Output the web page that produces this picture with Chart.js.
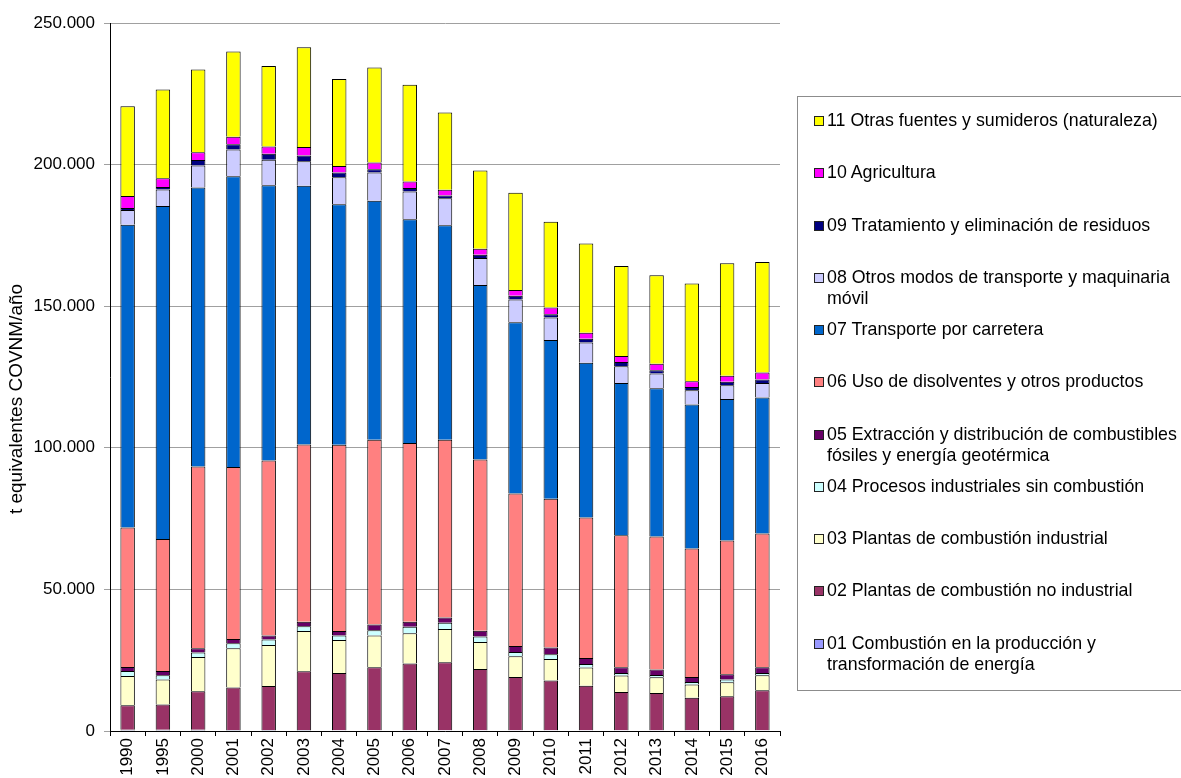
<!DOCTYPE html>
<html lang="es">
<head>
<meta charset="utf-8">
<title>COVNM por sector</title>
<script src="https://cdn.jsdelivr.net/npm/chart.js@4.4.1/dist/chart.umd.min.js"></script>
<style>
  body { margin: 0; background: #fff; }
  #wrap { position: relative; width: 1181px; height: 778px; font-family: "Liberation Sans", Arial, sans-serif; }
  #legend { position: absolute; left: 797px; top: 96px; width: 390px; height: 595px; border: 1px solid #8c8c8c; box-sizing: border-box; }
  #legend .item { position: absolute; left: 0; right: 0; height: 21px; }
  #legend .box { position: absolute; left: 16px; top: 6px; width: 8px; height: 8px; border: 1px solid #222; }
  #legend .txt { position: absolute; left: 29px; top: 0; font-size: 17.8px; line-height: 21px; color: #000; white-space: pre; }
</style>
</head>
<body>
<div id="wrap">
  <canvas id="covnmChart" width="1181" height="778"></canvas>
  <div id="legend"></div>
</div>
<script>
// Años del inventario
const years = ['1990', '1995', '2000', '2001', '2002', '2003', '2004', '2005', '2006', '2007',
               '2008', '2009', '2010', '2011', '2012', '2013', '2014', '2015', '2016'];

// Nombres de los sectores (el salto de línea es el de la leyenda original)
const sectorLabels = [
    '01 Combustión en la producción y\ntransformación de energía',
    '02 Plantas de combustión no industrial',
    '03 Plantas de combustión industrial',
    '04 Procesos industriales sin combustión',
    '05 Extracción y distribución de combustibles\nfósiles y energía geotérmica',
    '06 Uso de disolventes y otros productos',
    '07 Transporte por carretera',
    '08 Otros modos de transporte y maquinaria\nmóvil',
    '09 Tratamiento y eliminación de residuos',
    '10 Agricultura',
    '11 Otras fuentes y sumideros (naturaleza)'
];

const sectorColors = ['#9999ff', '#993366', '#ffffcc', '#ccffff', '#660066', '#ff8080',
                      '#0066cc', '#ccccff', '#000080', '#ff00ff', '#ffff00'];

// t equivalentes COVNM/año
const s01 = [400, 400, 400, 350, 350, 350, 300, 300, 300, 300, 300, 300, 300, 300, 300, 300, 300, 300, 300];
const s02 = [8700, 9000, 13600, 15050, 15550, 20750, 20200, 22200, 23500, 24000, 21600, 18800, 17500, 15700, 13500, 13100, 11400, 12000, 14100];
const s03 = [10300, 8800, 12100, 13800, 14500, 14200, 11600, 11200, 10700, 11700, 9500, 7300, 7600, 6400, 5800, 5600, 4700, 4900, 5300];
const s04 = [1800, 1500, 1600, 1800, 1900, 1700, 1600, 1900, 2300, 2200, 2000, 1500, 1700, 1300, 900, 800, 900, 1000, 800];
const s05 = [1400, 1500, 1500, 1500, 1400, 1600, 1600, 2000, 1800, 1900, 2000, 2100, 2400, 2100, 2000, 1900, 1800, 1800, 2000];
const s06 = [49300, 46600, 64200, 60700, 61800, 62600, 65800, 65200, 63100, 62700, 60500, 53900, 52500, 49600, 46600, 47000, 45300, 47300, 47200];
const s07 = [106900, 117600, 98500, 102700, 97200, 91300, 84900, 84400, 79000, 75800, 61600, 60400, 56100, 54600, 53800, 52300, 50900, 49900, 48100];
const s08 = [5200, 5800, 7800, 9400, 9000, 8700, 9500, 10000, 9800, 9500, 9500, 8100, 7900, 7200, 5900, 5200, 5000, 4900, 5100];
const s09 = [700, 900, 1900, 1900, 2100, 2000, 1700, 1200, 1200, 1000, 1200, 1300, 1200, 1300, 1500, 1200, 1200, 1200, 1200];
const s10 = [4200, 3100, 2800, 2600, 2600, 3000, 2300, 2300, 2300, 2000, 2100, 2000, 2300, 2100, 2100, 2300, 2000, 2100, 2500];
const s11 = [31700, 31300, 29200, 30100, 28400, 35200, 30700, 33600, 34200, 27300, 27600, 34400, 30300, 31500, 31800, 31200, 34500, 39800, 39000];

const yTicks = [0, 50000, 100000, 150000, 200000, 250000];
const yTitle = 't equivalentes COVNM/año';

const series = [s01, s02, s03, s04, s05, s06, s07, s08, s09, s10, s11];
const fontFamily = '"Liberation Sans", Arial, sans-serif';

function miles(v) {
    return String(v).replace(/\B(?=(\d{3})+(?!\d))/g, '.');
}

// titulo del eje Y dibujado a mano para poder centrarlo como en el original
const yTitlePlugin = {
    id: 'yTitle',
    afterDraw(chart) {
        const ctx = chart.ctx;
        ctx.save();
        ctx.translate(17, 399);
        ctx.rotate(-Math.PI / 2);
        ctx.font = '19px ' + fontFamily;
        ctx.fillStyle = '#000';
        ctx.textAlign = 'center';
        ctx.textBaseline = 'middle';
        ctx.fillText(yTitle, 0, 0);
        ctx.restore();
    }
};

const chart = new Chart(document.getElementById('covnmChart'), {
    type: 'bar',
    data: {
        labels: years,
        datasets: series.map((d, i) => ({
            label: sectorLabels[i],
            data: d,
            backgroundColor: sectorColors[i],
            borderColor: '#000',
            borderWidth: 1,
            barPercentage: 0.41,
            categoryPercentage: 1
        }))
    },
    options: {
        responsive: false,
        animation: false,
        layout: { padding: { top: 23, right: 401, bottom: 0, left: 0 } },
        plugins: {
            legend: { display: false },
            tooltip: { enabled: false }
        },
        scales: {
            x: {
                stacked: true,
                border: { color: '#000', width: 1 },
                grid: { display: true, drawOnChartArea: false, drawTicks: true, tickLength: 5, color: '#000' },
                ticks: { color: '#000', font: { family: fontFamily, size: 17 }, minRotation: 90, maxRotation: 90, padding: 2 },
                afterFit(scale) { scale.height = 47; }
            },
            y: {
                stacked: true,
                min: 0,
                max: 250000,
                border: { color: '#000', width: 1 },
                grid: { color: '#a0a0a0', tickLength: 6 },
                afterBuildTicks(scale) { scale.ticks = yTicks.map(v => ({ value: v })); },
                ticks: { color: '#000', font: { family: fontFamily, size: 17 }, padding: 9, callback: v => miles(v) },
                afterFit(scale) { scale.width = 110; }
            }
        }
    },
    plugins: [yTitlePlugin]
});

// leyenda a la derecha, en orden inverso (11 arriba)
const legendBox = document.getElementById('legend');
chart.data.datasets.slice().reverse().forEach((ds, i) => {
    const item = document.createElement('div');
    item.className = 'item';
    item.style.top = (13 + i * 52.25) + 'px';
    const mark = document.createElement('span');
    mark.className = 'box';
    mark.style.background = ds.backgroundColor;
    const txt = document.createElement('span');
    txt.className = 'txt';
    txt.textContent = ds.label;
    item.appendChild(mark);
    item.appendChild(txt);
    legendBox.appendChild(item);
});
</script>
</body>
</html>
